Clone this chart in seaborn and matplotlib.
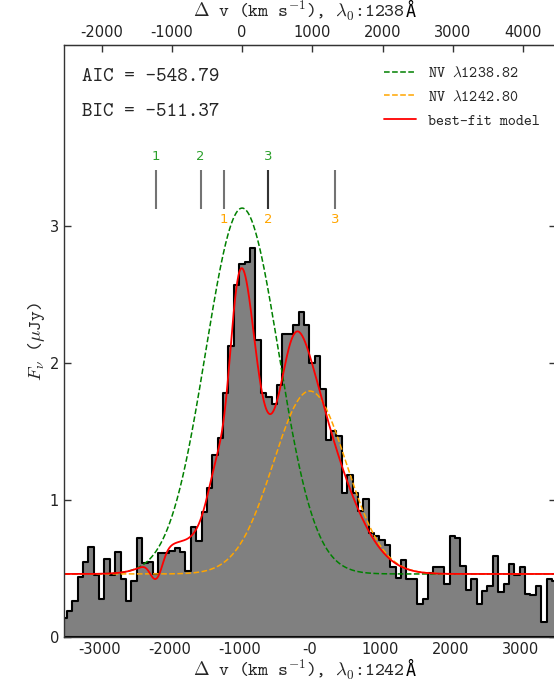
import numpy as np
import pandas as pd
import matplotlib
matplotlib.use("Agg")
import matplotlib.pyplot as plt
import seaborn as sns

# ---------------- data ----------------
# observed spectrum (flux density per velocity bin, bottom axis frame)
v_start = -3538.0          # left edge of the first bin (km/s)
bin_width = 76.8           # km/s
flux = [0.14, 0.19, 0.26, 0.44, 0.545, 0.655, 0.455, 0.28, 0.57, 0.455,
        0.62, 0.425, 0.265, 0.41, 0.72, 0.54, 0.545, 0.46, 0.61, 0.61,
        0.63, 0.65, 0.62, 0.48, 0.80, 0.70, 0.91, 1.09, 1.33, 1.45,
        1.78, 2.12, 2.57, 2.72, 2.74, 2.84, 2.17, 1.78, 1.75, 1.70,
        1.84, 2.21, 2.21, 2.28, 2.37, 2.28, 2.0, 2.05, 1.81, 1.44,
        1.505, 1.47, 1.05, 1.18, 1.05, 0.92, 1.01, 0.76, 0.74, 0.71,
        0.675, 0.51, 0.43, 0.56, 0.425, 0.425, 0.24, 0.28, 0.47, 0.51,
        0.51, 0.39, 0.74, 0.725, 0.52, 0.34, 0.425, 0.24, 0.335, 0.375,
        0.59, 0.33, 0.39, 0.53, 0.45, 0.51, 0.315, 0.31, 0.37, 0.11,
        0.425, 0.41]

doublet_offset = 963.0     # km/s between NV 1238.82 and 1242.80
continuum = 0.46
# emission components: [NV 1238.82, NV 1242.80] (bottom-axis velocities)
em_center = [-963.0, 0.0]
em_amp = [2.67, 1.335]
em_sigma = [520.0, 520.0]

# absorption components (velocity relative to each line)
comp_v = [-1224.0, -590.0, 365.0]
comp_labels = ["1", "2", "3"]
# optical depth profiles: green (1238) comps 1-3 then orange (1242) comps 1-3
abs_center = [-2187.0, -1553.0, -598.0, -1224.0, -590.0, 365.0]
abs_tau = [0.33, 0.78, 0.29, 0.20, 0.38, 0.14]
abs_sigma = [80.0, 280.0, 200.0, 100.0, 210.0, 400.0]

aic_text = "AIC = -548.79"
bic_text = "BIC = -511.37"
legend_labels = [r"NV $\lambda$1238.82", r"NV $\lambda$1242.80", "best-fit model"]
xlabel_bottom = r"$\Delta$ v (km s$^{-1}$), $\lambda_0$:1242"
xlabel_top = r"$\Delta$ v (km s$^{-1}$), $\lambda_0$:1238"
angstrom = "Å"

bottom_ticks = [-3000, -2000, -1000, 0, 1000, 2000, 3000]
bottom_ticklabels = ["-3000", "-2000", "-1000", "-0", "1000", "2000", "3000"]
top_ticks = [-2000, -1000, 0, 1000, 2000, 3000, 4000]
y_ticks = [0, 1, 2, 3]

# ---------------- style ----------------
sns.set_style("ticks")
plt.rcParams["mathtext.fontset"] = "cm"
plt.rcParams["font.family"] = ["DejaVu Sans"]
TT = ["cmtt10", "DejaVu Sans Mono"]
spine_col = "#333333"

fig = plt.figure(figsize=(5.54, 6.81), dpi=100)
ax = fig.add_axes([64 / 554, 1 - 637 / 681, (555.5 - 64) / 554, (637 - 45) / 681])

edges = v_start + bin_width * np.arange(len(flux) + 1)
spec = pd.DataFrame({"velocity": edges[:-1] + bin_width / 2, "flux": flux})
sns.histplot(data=spec, x="velocity", weights="flux", bins=list(edges),
             element="step", fill=True, color="#808080", alpha=1,
             edgecolor="black", linewidth=1.5, ax=ax)

v = np.linspace(-3500, 3500, 2000)

def gauss(x, c, s):
    return np.exp(-0.5 * ((x - c) / s) ** 2)

green_em = em_amp[0] * gauss(v, em_center[0], em_sigma[0])
orange_em = em_amp[1] * gauss(v, em_center[1], em_sigma[1])
tau = np.zeros_like(v)
for c, t, s in zip(abs_center, abs_tau, abs_sigma):
    tau += t * gauss(v, c, s)
model = (continuum + green_em + orange_em) * np.exp(-tau)

sns.lineplot(x=v, y=continuum + green_em, color="green", linestyle="--", lw=1.1,
             ax=ax, label=legend_labels[0])
sns.lineplot(x=v, y=continuum + orange_em, color="orange", linestyle="--", lw=1.1,
             ax=ax, label=legend_labels[1])
sns.lineplot(x=v, y=model, color="red", lw=1.3, ax=ax, label=legend_labels[2])

# component markers
green_pos = [c - doublet_offset for c in comp_v]
orange_pos = list(comp_v)
ax.vlines(green_pos + orange_pos, 3.12, 3.41, colors="black", alpha=0.55, lw=1.5)
for x, lab in zip(green_pos, comp_labels):
    ax.text(x, 3.51, lab, color="#2ca02c", ha="center", va="center", fontsize=9.5)
for x, lab in zip(orange_pos, comp_labels):
    ax.text(x, 3.05, lab, color="orange", ha="center", va="center", fontsize=9.5)

ax.text(0.037, 0.946, aic_text, transform=ax.transAxes, fontsize=14.5,
        family=TT, va="center", ha="left")
ax.text(0.037, 0.887, bic_text, transform=ax.transAxes, fontsize=14.5,
        family=TT, va="center", ha="left")

ax.set_xlim(-3500, 3500)
ax.set_ylim(0, 4.32)
ax.set_xticks(bottom_ticks)
ax.set_xticklabels(bottom_ticklabels)
ax.set_yticks(y_ticks)
ax.set_yticklabels([str(t) for t in y_ticks])
ax.tick_params(direction="in", length=5, width=1, color=spine_col, labelsize=10.5,
               right=True, top=False, labelcolor="#222222")
ax.set_xlabel(xlabel_bottom, fontsize=13.5, family=TT, labelpad=1, x=0.478)
ax.set_ylabel(r"$F_\nu$ ($\mu$Jy)", fontsize=13.5, family=TT, labelpad=2)
for sp in ax.spines.values():
    sp.set_color(spine_col)
    sp.set_linewidth(1.0)

sec = ax.secondary_xaxis("top", functions=(lambda x: x + doublet_offset,
                                           lambda x: x - doublet_offset))
sec.set_xticks(top_ticks)
sec.set_xticklabels([str(t) for t in top_ticks])
sec.tick_params(direction="in", length=5, width=1, color=spine_col, labelsize=10.5,
                labelcolor="#222222")
sec.set_xlabel(xlabel_top, fontsize=13.5, family=TT, labelpad=5, x=0.478)
sec.spines["top"].set_color(spine_col)

leg = ax.legend(loc="upper right", bbox_to_anchor=(1.0, 0.99), frameon=False,
                handlelength=2.1, prop={"family": TT, "size": 11},
                borderaxespad=0.6, labelspacing=0.6)

# append the Angstrom sign (not present in cmtt10) right after each axis label,
# sitting on the label's baseline
fig.canvas.draw()
renderer = fig.canvas.get_renderer()
W, H = fig.bbox.width, fig.bbox.height
for lab in [ax.xaxis.label, sec.xaxis.label]:
    bb = lab.get_window_extent(renderer)
    try:
        descent = lab._get_layout(renderer)[2]
        base = bb.y0 + descent + 1.5
    except Exception:
        base = bb.y0 + 0.27 * bb.height
    fig.text((bb.x1 + 0.5) / W, base / H, angstrom,
             fontsize=12, family=["DejaVu Sans Mono"], ha="left",
             va="baseline", color="black")

fig.savefig("out.png", dpi=100)
